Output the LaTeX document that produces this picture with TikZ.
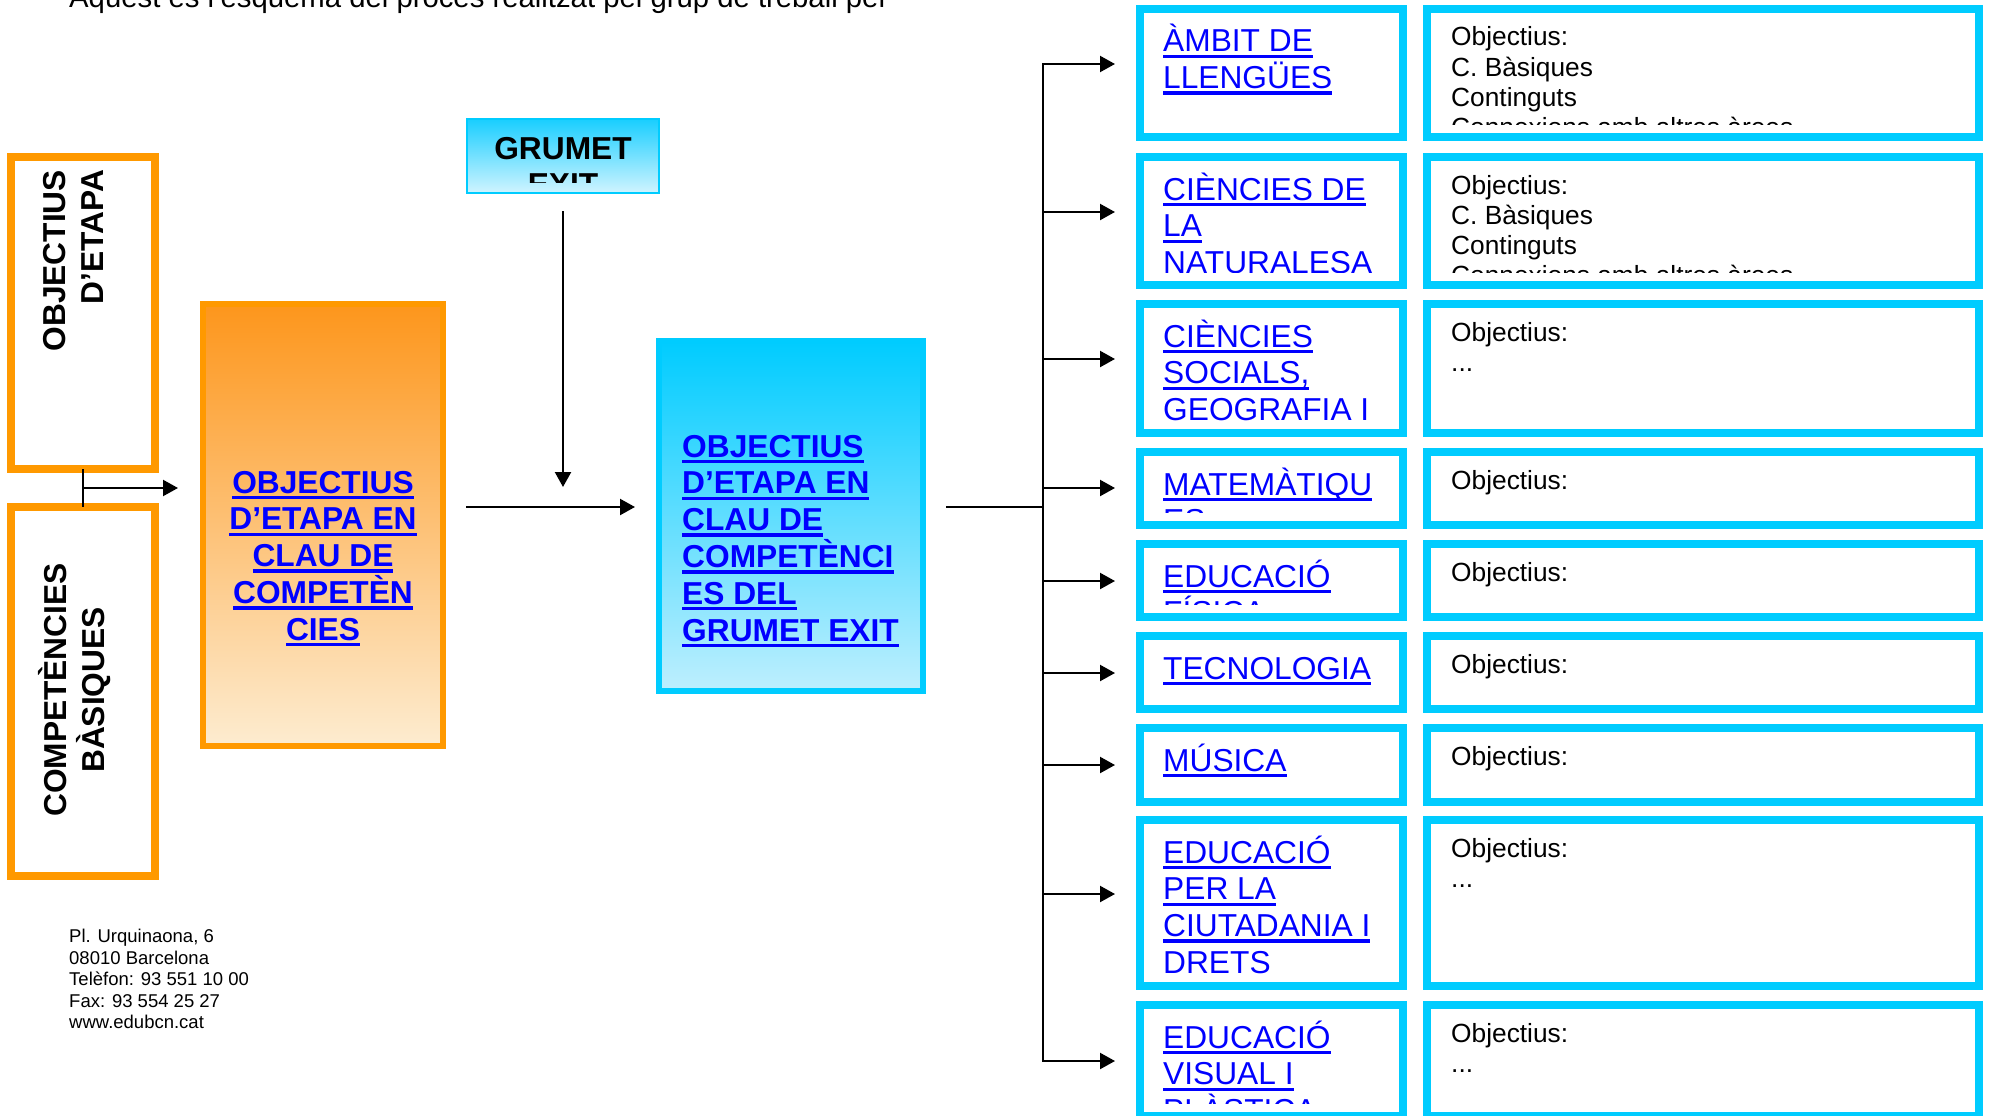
\documentclass[tikz,border=0pt]{standalone}
\usepackage{fontspec}
\setmainfont{Liberation Sans}
\usetikzlibrary{arrows.meta,calc}
\definecolor{org}{RGB}{255,153,0}
\definecolor{orgtop}{RGB}{253,150,28}
\definecolor{orgbot}{RGB}{253,236,208}
\definecolor{cy}{RGB}{0,204,255}
\definecolor{cybot}{RGB}{190,239,254}
\definecolor{grtop}{RGB}{25,206,255}
\definecolor{grbot}{RGB}{208,244,255}
\definecolor{lnk}{RGB}{0,0,255}
\newcommand\ulx[1]{\setbox0\hbox{#1}\rlap{\rule[-6.2pt]{\wd0}{3.4pt}}\box0}
\newcommand\Ln[1]{\hbox{\ulx{#1}}}
\newcommand\Lc[1]{\hbox to 0pt{\hss\ulx{#1}\hss}}
\newcommand\Lp[1]{\hbox{#1}}
\newcommand\Lr[1]{\hbox to 0pt{\hss#1}}
\newcommand\Lcp[1]{\hbox to 0pt{\hss#1\hss}}
\tikzset{
  line/.style={line width=2.2pt},
  arr/.style={line width=2.2pt,-{Triangle[length=15pt,width=16pt]}},
  obox/.style={draw=org, line width=8pt, fill=white, inner sep=0pt, outer sep=0pt, anchor=north west},
  lbox/.style={draw=cy, line width=8pt, fill=white, inner sep=0pt, outer sep=0pt, anchor=north west},
  bigb/.style={font=\fontsize{31.7}{36.8}\selectfont\bfseries, inner sep=0pt},
  rotb/.style={font=\fontsize{31.7}{38}\selectfont\bfseries, inner sep=0pt, rotate=90, anchor=base},
  subj/.style={font=\fontsize{31.7}{36.7}\selectfont, text=lnk, inner sep=0pt, anchor=base west},
  obj/.style={font=\fontsize{26.3}{30.3}\selectfont, inner sep=0pt, anchor=base west},
}
% #1 name, #2 outer top, #3 outer bottom, #4 branch y, #5 subject lines, #6 objective lines
\newcommand\subjrow[6]{%
  \node[lbox, minimum width=263pt, minimum height={(#3-#2-8)*1pt}] (L#1) at (1140,{#2+4}) {};
  \node[lbox, minimum width=552pt, minimum height={(#3-#2-8)*1pt}] (R#1) at (1427,{#2+4}) {};
  \begin{scope}
    \clip (1144,{#2+8}) rectangle (1399,{#3-17});
    \node[subj] (LT#1) at (1163,{#2+47}) {\vtop{#5}};
  \end{scope}
  \begin{scope}
    \clip (1431,{#2+8}) rectangle (1975,{#3-17});
    \node[obj] (RT#1) at (1451,{#2+41}) {\vtop{#6}};
  \end{scope}
  \coordinate (b#1) at (1043,#4);
  \draw[arr, shorten >=25pt] (b#1) -- (L#1.west |- b#1);
}
\begin{document}
\begin{tikzpicture}[x=1pt,y=-1pt]
\useasboundingbox (0,0) rectangle (1989,1116);

% heading (cut by the page top)
\node[font=\fontsize{29.3}{34}\selectfont, inner sep=0pt, anchor=base west] (title) at (69,8)
  {Aquest és l’esquema del procés realitzat pel grup de treball per};

% left orange boxes
\node[obox, minimum width=144pt, minimum height=312pt] (A) at (11,157) {};
\node[obox, minimum width=144pt, minimum height=369pt] (B) at (11,507) {};
\node[rotb] (At) at (65,170) {\vtop{\Lr{OBJECTIUS}\Lr{D’ETAPA}}};
\node[rotb] (Bt) at (66,690) {\vtop{\Lcp{COMPETÈNCIES}\Lcp{BÀSIQUES}}};

% middle orange box
\node[draw=org, line width=6pt, top color=orgtop, bottom color=orgbot, anchor=north west,
      minimum width=240pt, minimum height=442pt, inner sep=0pt, outer sep=0pt] (C) at (203,304) {};
\node[bigb, text=lnk, anchor=base] (Ct) at (323,493)
  {\vtop{\Lc{OBJECTIUS}\Lc{D’ETAPA EN}\Lc{CLAU DE}\Lc{COMPETÈN}\Lc{CIES}}};

% GRUMET box
\node[draw=cy, line width=2pt, top color=grtop, bottom color=grbot, anchor=north west,
      minimum width=192pt, minimum height=74pt, inner sep=0pt, outer sep=0pt] (G) at (467,119) {};
\begin{scope}
  \clip (468,120) rectangle (658,182);
  \node[bigb, anchor=base] (Gt) at (563,159) {\vtop{\Lcp{GRUMET}\Lcp{EXIT}}};
\end{scope}

% blue box
\node[draw=cy, line width=6pt, top color=cy, bottom color=cybot, anchor=north west,
      minimum width=264pt, minimum height=350pt, inner sep=0pt, outer sep=0pt] (D) at (659,341) {};
\node[bigb, text=lnk, anchor=base west] (Dt) at (682,457)
  {\vtop{\Ln{OBJECTIUS}\Ln{D’ETAPA EN}\Ln{CLAU DE}\Ln{COMPETÈNCI}\Ln{ES DEL}\Ln{GRUMET EXIT}}};

% connectors on the left
\draw[line] (A.south) -- (B.north);
\coordinate (abm) at ($(A.south)!0.5!(B.north)$);
\draw[arr, shorten >=25pt] (abm) -- (C.west |- abm);
\coordinate (gs) at (563,211);
\coordinate (ge) at (563,487);
\draw[arr] (gs) -- (ge);
\coordinate (hs) at (466,507);
\coordinate (he) at (635,507);
\draw[arr] (hs) -- (he);
\coordinate (ds) at (946,507);

% subject rows
\subjrow{1}{5}{141}{64}{\Ln{ÀMBIT DE}\Ln{LLENGÜES}}%
  {\Lp{Objectius:}\Lp{C. Bàsiques}\Lp{Continguts}\Lp{Connexions amb altres àrees}}
\subjrow{2}{153}{289}{212}{\Ln{CIÈNCIES DE}\Ln{LA}\Ln{NATURALESA}}%
  {\Lp{Objectius:}\Lp{C. Bàsiques}\Lp{Continguts}\Lp{Connexions amb altres àrees}}
\subjrow{3}{300}{437}{359}{\Ln{CIÈNCIES}\Ln{SOCIALS,}\Ln{GEOGRAFIA I}\Ln{HISTÒRIA}}%
  {\Lp{Objectius:}\Lp{...}}
\subjrow{4}{448}{529}{488}{\Ln{MATEMÀTIQU}\Ln{ES}}{\Lp{Objectius:}}
\subjrow{5}{540}{621}{581}{\Ln{EDUCACIÓ}\Ln{FÍSICA}}{\Lp{Objectius:}}
\subjrow{6}{632}{713}{673}{\Ln{TECNOLOGIA}}{\Lp{Objectius:}}
\subjrow{7}{724}{806}{765}{\Ln{MÚSICA}}{\Lp{Objectius:}}
\subjrow{8}{816}{990}{894}{\Ln{EDUCACIÓ}\Ln{PER LA}\Ln{CIUTADANIA I}\Ln{DRETS}}%
  {\Lp{Objectius:}\Lp{...}}
\subjrow{9}{1001}{1120}{1061}{\Ln{EDUCACIÓ}\Ln{VISUAL I}\Ln{PLÀSTICA}}%
  {\Lp{Objectius:}\Lp{...}}

% trunk
\draw[line, line cap=rect] (b1) -- (b9);
\draw[line] (ds) -- (ds -| b1);

% address
\node[font=\fontsize{18.5}{21.5}\selectfont, inner sep=0pt, anchor=base west] (addr) at (69,942.5)
  {\vtop{\Lp{Pl. Urquinaona, 6}\Lp{08010 Barcelona}\Lp{Telèfon: 93 551 10 00}\Lp{Fax: 93 554 25 27}\Lp{www.edubcn.cat}}};
\end{tikzpicture}
\end{document}
